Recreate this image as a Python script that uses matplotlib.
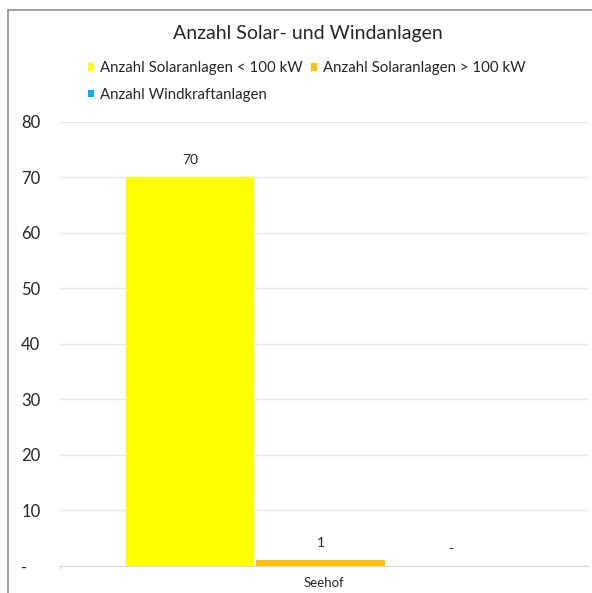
import matplotlib
matplotlib.use("Agg")
import matplotlib.pyplot as plt
from matplotlib.patches import Rectangle

plt.rcParams["font.family"] = ["Lato", "DejaVu Sans"]

categories = ["Seehof"]
series = ["Anzahl Solaranlagen < 100 kW", "Anzahl Solaranlagen > 100 kW", "Anzahl Windkraftanlagen"]
values = [70, 1, 0]
colors = ["#ffff00", "#ffc000", "#00b0f0"]
yticks = [0, 10, 20, 30, 40, 50, 60, 70, 80]
ytick_labels = ["-   ", "10", "20", "30", "40", "50", "60", "70", "80"]

fig = plt.figure(figsize=(5.92, 5.93), dpi=100)
ax = fig.add_axes([0.101, 0.0455, 0.892, 0.749])

bar_w = 0.247
offsets = [-bar_w, 0, bar_w]
for name, v, c, off in zip(series, values, colors, offsets):
    ax.bar(off - 0.006, v, width=bar_w * 0.985, color=c, label=name, zorder=2)
    lbl = f"{v}" if v else "-"
    ax.annotate(lbl, (off - 0.006, v), xytext=(0, 8), textcoords="offset points",
                ha="center", va="bottom", fontsize=10, color="#262626")

ax.set_xlim(-0.5, 0.5)
ax.set_ylim(0, 80)
ax.set_yticks(yticks)
ax.set_yticklabels(ytick_labels, fontsize=12, color="#262626")
ax.tick_params(axis="y", length=0, pad=14)
ax.set_xticks([0])
ax.set_xticklabels(categories, fontsize=9.5, color="#262626")
ax.tick_params(axis="x", length=0, pad=8)
ax.grid(axis="y", color="#e6e6e6", linewidth=1, zorder=0)
for s in ["top", "right", "left"]:
    ax.spines[s].set_visible(False)
ax.spines["bottom"].set_color("#d9d9d9")
ax.plot([-0.5, -0.5], [0, -0.6], color="#d9d9d9", lw=1, clip_on=False)

fig.text(0.52, 0.943, "Anzahl Solar- und Windanlagen", ha="center", va="center",
         fontsize=14, color="#262626")

# Excel-style row-wise legend flow
handles, labels = ax.get_legend_handles_labels()
order = [0, 2, 1]
leg = fig.legend([handles[i] for i in order], [labels[i] for i in order],
                 loc="upper left", bbox_to_anchor=(0.148, 0.897),
                 ncol=2, frameon=False, fontsize=10.8, handlelength=0.42,
                 handleheight=0.42, handletextpad=0.4, columnspacing=0.55,
                 labelspacing=0.85, borderaxespad=0, borderpad=0)
for t in leg.get_texts():
    t.set_color("#262626")

fig.patches.append(Rectangle((8 / 592, -0.02), 1.05, 1 - 10 / 593 + 0.02,
                             transform=fig.transFigure, fill=False,
                             edgecolor="#8c8c8c", linewidth=1.2))

fig.savefig("out.png", dpi=100)
